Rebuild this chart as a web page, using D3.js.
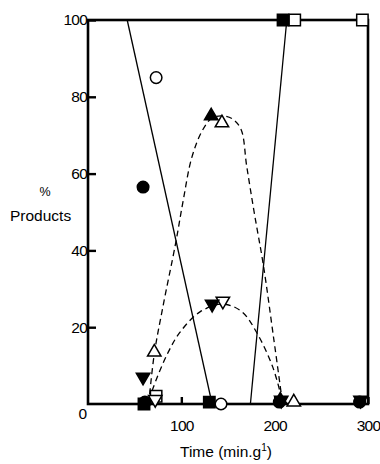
<!DOCTYPE html>
<html>
<head>
<meta charset="utf-8">
<script src="https://cdn.jsdelivr.net/npm/d3@7"></script>
<style>
  html, body { margin: 0; padding: 0; background: #fff; }
  svg { display: block; font-family: "Liberation Sans", Arial, sans-serif; }
</style>
</head>
<body>
<svg id="chart" width="380" height="464"></svg>
<script>
// Axis ticks
const xTicks = [100, 200, 300];
const yTicks = [20, 40, 60, 80, 100];

// Measured points: [time (min.g-1), % products]
const filledCircle = [[59, 56.5], [61, 0.5], [205, 0.5], [291, 0.5]];
const openCircle   = [[73, 85], [142.5, 0]];
const filledUp     = [[132, 75], [206, 1]];
const openUp       = [[71, 13.5], [143.5, 73.2], [220.5, 0.5]];
const filledDown   = [[59, 7], [133, 26], [207, 1], [292, 1]];
const openDown     = [[72, 1.2], [144.5, 26.8]];
const filledSquare = [[60, 0], [130, 0.5], [209, 100]];
const openSquare   = [[73, 2], [221.5, 100], [294, 100]];

// Fitted trend lines
const declineLine = [[42, 100], [133, 0]];
const riseLine    = [[174, 0], [213, 100]];
const upCurve   = [[65, 0], [71, 13], [80, 25], [94, 42], [102, 53], [111, 64], [122, 71],
                   [133, 74.5], [145, 75], [155, 74.2], [164, 71.5], [170, 62], [178, 50],
                   [188, 36], [199, 17], [208, 1]];
const downCurve = [[65, 1], [75, 7.5], [86, 13.5], [98, 18.5], [120, 24], [145, 26],
                   [165, 24], [181, 18.5], [198, 9.6], [208, 1]];

const svg = d3.select("#chart");
const x = d3.scaleLinear([0, 300], [88, 368]);
const y = d3.scaleLinear([0, 100], [404, 20]);

const line = d3.line().x(d => x(d[0])).y(d => y(d[1]));
const smooth = d3.line().x(d => x(d[0])).y(d => y(d[1])).curve(d3.curveCatmullRom.alpha(0.5));

// Trend lines
const g = svg.append("g");
[declineLine, riseLine].forEach(pts => {
  g.append("path").attr("d", line(pts))
    .attr("fill", "none").attr("stroke", "#000").attr("stroke-width", 1.3);
});
[upCurve, downCurve].forEach(pts => {
  g.append("path").attr("d", smooth(pts))
    .attr("fill", "none").attr("stroke", "#000").attr("stroke-width", 1.3)
    .attr("stroke-dasharray", "6,4");
});

// Frame
svg.append("rect")
  .attr("x", x(0)).attr("y", y(100))
  .attr("width", x(300) - x(0)).attr("height", y(0) - y(100))
  .attr("fill", "none").attr("stroke", "#000").attr("stroke-width", 2.6);

// Axes (ticks drawn inward)
const yAxis = svg.append("g").attr("transform", `translate(${x(0)},0)`)
  .call(d3.axisLeft(y).tickValues(yTicks).tickSize(-8).tickPadding(1).tickFormat(d3.format("d")));
const xAxis = svg.append("g").attr("transform", `translate(0,${y(0)})`)
  .call(d3.axisBottom(x).tickValues(xTicks).tickSize(-7).tickPadding(16).tickFormat(d3.format("d")));
[yAxis, xAxis].forEach(a => {
  a.select(".domain").remove();
  a.selectAll(".tick line").attr("stroke", "#000").attr("stroke-width", 2.4);
  a.selectAll(".tick text").attr("fill", "#000").style("font-size", "15.5px")
    .style("font-family", "Liberation Sans, Arial, sans-serif").attr("letter-spacing", "-0.8");
});

// Origin label
svg.append("text").attr("x", x(0) - 1).attr("y", y(0) + 15)
  .attr("text-anchor", "end").style("font-size", "15.5px").text("0");

// Axis titles
svg.append("text").attr("x", 45).attr("y", 196).attr("text-anchor", "middle")
  .style("font-size", "12.5px").text("%");
svg.append("text").attr("x", 10).attr("y", 221).style("font-size", "15.5px").text("Products");
const xt = svg.append("text").attr("x", 180).attr("y", 457).style("font-size", "15.5px");
xt.append("tspan").text("Time (min.g");
xt.append("tspan").attr("dy", -6).style("font-size", "10px").text("1");
xt.append("tspan").attr("dy", 6).text(")");

// Markers
const sym = d3.symbol();
function plot(data, type, size, filled, rotate) {
  svg.append("g").selectAll("path").data(data).join("path")
    .attr("transform", d => `translate(${x(d[0])},${y(d[1])})` + (rotate ? " rotate(180)" : ""))
    .attr("d", sym.type(type).size(size)())
    .attr("fill", filled ? "#000" : "#fff")
    .attr("stroke", "#000").attr("stroke-width", 1.5);
}
plot(openSquare, d3.symbolSquare, 130, false);
plot(filledSquare, d3.symbolSquare, 130, true);
plot(openCircle, d3.symbolCircle, 105, false);
plot(filledCircle, d3.symbolCircle, 105, true);
plot(openDown, d3.symbolTriangle, 78, false, true);
plot(filledDown, d3.symbolTriangle, 78, true, true);
plot(openUp, d3.symbolTriangle, 78, false);
plot(filledUp, d3.symbolTriangle, 78, true);
</script>
</body>
</html>
